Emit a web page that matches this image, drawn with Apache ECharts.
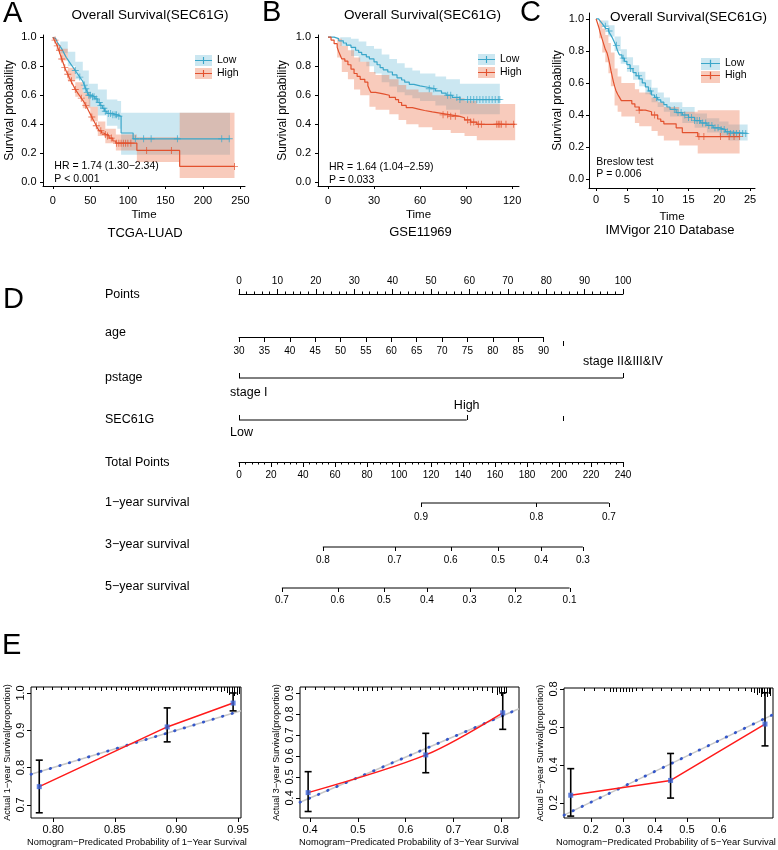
<!DOCTYPE html>
<html><head><meta charset="utf-8">
<script src="https://cdn.jsdelivr.net/npm/echarts@6/dist/echarts.min.js"></script>
<style>html,body{margin:0;padding:0;background:#fff}#c{width:778px;height:850px}</style>
</head><body><div id="c"></div>
<script>
const FF = '"Liberation Sans", Arial, Helvetica, sans-serif';

// ---------------- Panel A (TCGA-LUAD) ----------------
const A_low = [[0,1],[2,0.99],[4,0.98],[6,0.965],[8,0.95],[10,0.935],[12,0.92],[14,0.9],[16,0.88],[18,0.86],[20,0.845],[22,0.83],[24,0.815],[26,0.8],[28,0.785],[30,0.77],[32,0.755],[34,0.74],[36,0.725],[38,0.71],[40,0.695],[42,0.67],[44,0.645],[46,0.62],[48,0.6],[52,0.59],[56,0.575],[60,0.55],[63,0.53],[66,0.51],[69,0.49],[72,0.475],[80,0.465],[86,0.455],[91,0.34],[107,0.3],[236,0.3]];
const A_high = [[0,1],[2,0.98],[4,0.96],[6,0.94],[8,0.91],[10,0.88],[12,0.85],[14,0.82],[16,0.79],[18,0.765],[20,0.745],[22,0.72],[24,0.7],[26,0.68],[28,0.66],[30,0.64],[32,0.625],[34,0.61],[36,0.595],[38,0.58],[40,0.565],[42,0.55],[44,0.53],[46,0.51],[48,0.49],[50,0.47],[52,0.45],[54,0.43],[56,0.41],[58,0.39],[60,0.37],[62,0.355],[65,0.34],[68,0.33],[71,0.32],[75,0.305],[80,0.285],[84,0.27],[112,0.22],[169,0.11],[242,0.11]];
const A_lowCens = [30,36,42,44,46,48,50,53,55,58,62,64,68,70,74,77,80,83,85,88,110,121,131,166,225,235];
const A_highCens = [3,6,9,12,16,20,25,30,38,44,52,58,64,70,73,78,85,88,91,94,97,100,104,125,158,242];
const A_lowBand = [[0,1,1],[10,0.89,0.97],[20,0.8,0.9],[30,0.71,0.83],[40,0.62,0.77],[48,0.52,0.68],[60,0.46,0.64],[72,0.39,0.57],[86,0.37,0.56],[91,0.19,0.48],[236,0.19,0.48]];
const A_highBand = [[0,1,1],[10,0.84,0.92],[20,0.7,0.79],[30,0.59,0.69],[40,0.51,0.62],[50,0.42,0.52],[60,0.32,0.42],[70,0.27,0.37],[84,0.22,0.33],[112,0.14,0.31],[169,0.03,0.48],[242,0.03,0.48]];
const A_xTicks = [0,50,100,150,200,250];

// ---------------- Panel B (GSE11969) ----------------
const B_low = [[0,1],[4,0.99],[7,0.975],[10,0.96],[12,0.945],[15,0.93],[18,0.91],[20,0.895],[22,0.88],[25,0.865],[27,0.85],[30,0.83],[32,0.81],[34,0.79],[36,0.775],[39,0.76],[42,0.74],[45,0.72],[48,0.705],[50,0.69],[53,0.675],[56,0.665],[60,0.655],[65,0.645],[70,0.63],[74,0.615],[77,0.6],[81,0.585],[86,0.57],[112,0.57]];
const B_high = [[0,1],[2,0.98],[4,0.955],[6,0.93],[7,0.9],[8,0.875],[9,0.85],[11,0.835],[13,0.81],[15,0.78],[17,0.75],[19,0.73],[21,0.71],[24,0.69],[26,0.665],[27,0.64],[28,0.62],[31,0.61],[36,0.6],[40,0.585],[44,0.57],[46,0.55],[48,0.53],[51,0.515],[55,0.505],[59,0.495],[63,0.485],[68,0.475],[74,0.465],[80,0.455],[86,0.445],[89,0.43],[93,0.415],[97,0.4],[122,0.4]];
const B_lowCens = [66,69,78,80,84,86,91,93,95,97,99,101,103,105,107,109,111,112];
const B_highCens = [75,78,80,83,91,93,95,98,100,110,111,112,113,116,121];
const B_lowBand = [[0,1,1],[8,0.94,1.0],[15,0.87,0.99],[20,0.83,0.97],[25,0.8,0.94],[30,0.75,0.92],[35,0.69,0.88],[40,0.66,0.85],[45,0.62,0.82],[50,0.6,0.79],[55,0.58,0.77],[60,0.56,0.75],[70,0.53,0.73],[77,0.5,0.71],[86,0.47,0.68],[112,0.47,0.68]];
const B_highBand = [[0,1,1],[6,0.86,0.99],[9,0.76,0.94],[13,0.71,0.91],[17,0.64,0.86],[21,0.6,0.83],[27,0.52,0.76],[31,0.5,0.74],[40,0.47,0.71],[46,0.43,0.67],[51,0.4,0.64],[59,0.38,0.62],[68,0.36,0.6],[80,0.34,0.58],[89,0.32,0.56],[97,0.29,0.54],[122,0.29,0.54]];
const B_xTicks = [0,30,60,90,120];

// ---------------- Panel C (IMVigor 210) ----------------
const C_low = [[0,1],[0.4,0.995],[0.7,0.985],[1,0.97],[1.3,0.955],[1.6,0.94],[2,0.925],[2.3,0.905],[2.6,0.885],[2.9,0.86],[3.2,0.835],[3.5,0.8],[3.8,0.775],[4.2,0.755],[4.6,0.735],[5,0.715],[5.5,0.69],[6,0.665],[6.5,0.645],[7,0.625],[7.5,0.6],[8,0.575],[8.5,0.55],[9,0.525],[9.5,0.51],[10,0.495],[10.5,0.48],[11,0.465],[11.5,0.45],[12,0.435],[13,0.415],[14,0.4],[15,0.385],[16,0.365],[17,0.35],[18,0.335],[19,0.32],[20,0.31],[21,0.295],[21.5,0.285],[24.6,0.285]];
const C_high = [[0,1],[0.3,0.965],[0.5,0.94],[0.7,0.91],[0.9,0.885],[1.1,0.86],[1.3,0.835],[1.5,0.81],[1.8,0.785],[2,0.755],[2.2,0.72],[2.4,0.68],[2.6,0.645],[2.8,0.61],[3,0.58],[3.2,0.555],[3.5,0.53],[3.8,0.51],[4.1,0.49],[5.8,0.47],[6.3,0.45],[7,0.43],[8,0.42],[9,0.4],[10,0.375],[10.5,0.36],[11,0.345],[13,0.32],[14,0.29],[16.5,0.265],[23.3,0.265]];
const C_lowCens = [1.5,2.1,3.3,4.4,5.6,6.9,8.8,9.8,12.7,13.3,13.8,14.4,15,15.5,16,16.4,16.8,17.3,17.8,18.3,18.8,19.3,19.8,20.3,20.8,21.3,21.8,22.3,22.8,23.3,23.8,24.3];
const C_highCens = [7,9.5,16.7,17.5,20.2,21.6,22.4,23.3];
const C_lowBand = [[0,1,1],[1,0.95,0.99],[2,0.89,0.96],[3,0.8,0.89],[4,0.72,0.81],[5,0.67,0.76],[6,0.62,0.71],[7,0.58,0.67],[8,0.53,0.62],[9,0.48,0.57],[10,0.45,0.54],[11,0.42,0.51],[12,0.39,0.48],[14,0.35,0.45],[16,0.32,0.41],[18,0.29,0.38],[20,0.27,0.36],[21.5,0.24,0.34],[24.6,0.24,0.34]];
const C_highBand = [[0,1,1],[0.5,0.88,0.99],[1,0.79,0.94],[1.5,0.73,0.9],[2,0.66,0.85],[2.4,0.58,0.79],[3,0.46,0.69],[3.5,0.42,0.64],[4.1,0.39,0.6],[6.3,0.35,0.56],[7,0.33,0.54],[9,0.3,0.51],[10,0.27,0.48],[11,0.24,0.45],[13.5,0.21,0.42],[16.5,0.16,0.43],[23.3,0.16,0.43]];
const C_xTicks = [0,5,10,15,20,25];
const KM_yTicks = [0,0.2,0.4,0.6,0.8,1.0];

// ---------------- Panel D (nomogram) ----------------
const ageMaxPoints = 79.3;          // points given to age 90
const pstageLevels = ['stage I','stage II&III&IV'];
const pstagePoints = [0,100];
const secLevels = ['Low','High'];
const secPoints = [0,59.3];
const strayTickPoints = 84.4;
const surv1Labels = ['0.9','0.8','0.7'];
const surv1Total = [113.75,185.9,231.2];
const surv3Labels = ['0.8','0.7','0.6','0.5','0.4','0.3'];
const surv3Total = [52.4,97.2,132.3,162,188.8,214.9];
const surv5Labels = ['0.7','0.6','0.5','0.4','0.3','0.2','0.1'];
const surv5Total = [26.8,61.6,90.6,117.4,144.1,172.5,206.6];

// ---------------- Panel E (calibration) ----------------
const E1_pred = [0.7887,0.8925,0.946], E1_obs = [0.749,0.909,0.973], E1_lo = [0.679,0.869,0.952], E1_hi = [0.82,0.96,1.0];
const E2_pred = [0.396,0.642,0.803], E2_obs = [0.425,0.605,0.806], E2_lo = [0.335,0.52,0.727], E2_hi = [0.525,0.708,0.901];
const E3_pred = [0.137,0.449,0.744], E3_obs = [0.24,0.318,0.615], E3_lo = [0.13,0.225,0.50], E3_hi = [0.38,0.46,0.78];
const E1_ideal = [[0.782,0.782],[0.9524,0.9524]];
const E2_ideal = [[0.379,0.379],[0.837,0.825]];
const E3_ideal = [[0.116,0.135],[0.769,0.665]];
const E1_rug = [[0.786,3],[0.792,3],[0.799,3],[0.806,3],[0.812,3],[0.818,3],[0.823,3],[0.829,3],[0.834,3],[0.839,4],[0.843,3],[0.847,3],[0.851,4],[0.855,3],[0.858,3],[0.861,4],[0.864,3],[0.867,3],[0.87,4],[0.873,3],[0.876,3],[0.879,4],[0.882,3],[0.885,4],[0.888,3],[0.891,4],[0.894,3],[0.897,4],[0.9,3],[0.903,4],[0.906,3],[0.909,4],[0.912,3],[0.915,4],[0.918,3],[0.921,4],[0.924,3],[0.927,4],[0.93,3],[0.933,4],[0.936,5],[0.939,4],[0.941,6],[0.943,8],[0.945,6],[0.947,9],[0.949,8],[0.951,7]];
const E2_rug = [[0.39,3],[0.41,3],[0.43,3],[0.45,3],[0.47,3],[0.49,3],[0.5,4],[0.51,4],[0.52,4],[0.53,4],[0.54,4],[0.55,3],[0.57,3],[0.59,3],[0.61,3],[0.63,3],[0.65,3],[0.67,3],[0.68,3],[0.7,3],[0.71,3],[0.72,3],[0.73,3],[0.74,4],[0.75,3],[0.76,4],[0.77,4],[0.78,6],[0.79,8],[0.795,5],[0.8,9],[0.805,7],[0.81,6]];
const E3_rug = [[0.18,3],[0.21,3],[0.24,3],[0.26,4],[0.27,4],[0.28,4],[0.29,4],[0.3,4],[0.31,4],[0.32,4],[0.33,4],[0.34,3],[0.36,3],[0.39,3],[0.42,3],[0.45,3],[0.48,3],[0.51,3],[0.54,3],[0.57,3],[0.6,3],[0.63,3],[0.66,3],[0.68,3],[0.7,4],[0.71,5],[0.72,7],[0.725,5],[0.73,9],[0.735,6],[0.74,8],[0.75,9],[0.755,6],[0.76,8]];

// ---------------- styling ----------------
const LOW_COL = '#3AA6C9', HIGH_COL = '#E2512E';
const LOW_BAND = 'rgba(110,188,215,0.36)', HIGH_BAND = 'rgba(236,118,80,0.38)';
const PLUS = 'path://M0,4.35H10V5.65H0Z M4.35,0H5.65V10H4.35Z';
const KEY = 'path://M0,4.4H20V5.6H0Z M9.35,1H10.65V9H9.35Z';

function stepAt(curve, t) { let s = curve[0][1]; for (const p of curve) { if (p[0] <= t) s = p[1]; else break; } return s; }

function bandSeries(name, band, color, gi) {
  return { type: 'custom', name, xAxisIndex: gi, yAxisIndex: gi, silent: true, z: 1,
    itemStyle: { color }, data: [[band[0][0], band[0][1]]],
    renderItem: (params, api) => {
      const pts = []; const n = band.length;
      for (let i = 0; i < n; i++) { pts.push(api.coord([band[i][0], band[i][2]])); if (i < n - 1) pts.push(api.coord([band[i+1][0], band[i][2]])); }
      for (let i = n - 1; i >= 0; i--) { if (i < n - 1) pts.push(api.coord([band[i+1][0], band[i][1]])); pts.push(api.coord([band[i][0], band[i][1]])); }
      return { type: 'polygon', shape: { points: pts }, style: { fill: color } };
    } };
}
function kmSeries(gi, low, high, lowC, highC, lowB, highB) {
  const line = (name, d, c) => ({ type: 'line', name, xAxisIndex: gi, yAxisIndex: gi, data: d, step: 'end', symbol: 'none', silent: true, z: 2,
    lineStyle: { color: c, width: 1.2 }, itemStyle: { color: c } });
  const cens = (name, curve, ts, c) => ({ type: 'scatter', name, xAxisIndex: gi, yAxisIndex: gi, silent: true, z: 3,
    data: ts.map(t => [t, stepAt(curve, t)]), symbol: PLUS, symbolSize: 7, itemStyle: { color: c } });
  return [bandSeries('LowCI', lowB, LOW_BAND, gi), bandSeries('HighCI', highB, HIGH_BAND, gi),
    line('Low', low, LOW_COL), line('High', high, HIGH_COL),
    cens('Low_c', low, lowC, LOW_COL), cens('High_c', high, highC, HIGH_COL)];
}
function kmX(gi, min, max, ticks, margin) {
  return { gridIndex: gi, type: 'value', min, max, position: 'bottom',
    axisLine: { show: true, onZero: false, lineStyle: { color: '#000', width: 1 } },
    axisTick: { show: true, length: 3, customValues: ticks, lineStyle: { color: '#000' } },
    axisLabel: { show: true, customValues: ticks, fontSize: 11, color: '#000', margin, fontFamily: FF },
    splitLine: { show: false }, name: 'Time', nameLocation: 'middle', nameGap: 23, nameMoveOverlap: false,
    nameTextStyle: { fontSize: 11.5, color: '#000', fontFamily: FF } };
}
function kmY(gi, min, max, margin, gap) {
  return { gridIndex: gi, type: 'value', min, max, position: 'left',
    axisLine: { show: true, onZero: false, lineStyle: { color: '#000', width: 1 } },
    axisTick: { show: true, length: 3, customValues: KM_yTicks, lineStyle: { color: '#000' } },
    axisLabel: { show: true, customValues: KM_yTicks, formatter: v => v.toFixed(1), fontSize: 11, color: '#000', margin, fontFamily: FF },
    splitLine: { show: false }, name: 'Survival probability', nameLocation: 'middle', nameGap: gap, nameMoveOverlap: false,
    nameTextStyle: { fontSize: 12, color: '#000', fontFamily: FF } };
}
function eX(gi, min, max, ticks, dec) {
  return { gridIndex: gi, type: 'value', min, max, position: 'bottom', axisLine: { show: false, onZero: false },
    axisTick: { show: true, length: 4, customValues: ticks, lineStyle: { color: '#000' } },
    axisLabel: { customValues: ticks, formatter: v => v.toFixed(dec), fontSize: 11, color: '#000', margin: 6, fontFamily: FF },
    splitLine: { show: false } };
}
function eY(gi, min, max, ticks, name) {
  return { gridIndex: gi, type: 'value', min, max, position: 'left', axisLine: { show: false, onZero: false },
    axisTick: { show: true, length: 4, customValues: ticks, lineStyle: { color: '#000' } },
    axisLabel: { customValues: ticks, formatter: v => v.toFixed(1), rotate: 90, fontSize: 11, color: '#000', margin: 5, fontFamily: FF },
    splitLine: { show: false }, name, nameLocation: 'middle', nameGap: 19, nameMoveOverlap: false,
    nameTextStyle: { fontSize: 9, color: '#000', fontFamily: FF } };
}
function calSeries(xi, yi, yMax, pred, obs, lo, hi, ideal, rug, smooth) {
  return [
    { type: 'line', xAxisIndex: xi, yAxisIndex: yi, data: ideal, symbol: 'none', silent: true, z: 1, lineStyle: { color: '#c8c8c8', width: 1.5 } },
    { type: 'line', xAxisIndex: xi, yAxisIndex: yi, data: ideal, symbol: 'none', silent: true, z: 2, lineStyle: { color: '#3557c9', width: 2.8, type: [0.5, 9.5], cap: 'round' } },
    { type: 'line', xAxisIndex: xi, yAxisIndex: yi, data: pred.map((p, i) => [p, obs[i]]), symbol: 'none', smooth: smooth || false, silent: true, z: 3, lineStyle: { color: '#ff1a1a', width: 1.5 } },
    { type: 'custom', xAxisIndex: xi, yAxisIndex: yi, silent: true, z: 4, data: pred.map((p, i) => [p, lo[i], hi[i]]), encode: { x: 0, y: [1, 2] },
      renderItem: (params, api) => {
        const a = api.coord([api.value(0), api.value(1)]), b = api.coord([api.value(0), api.value(2)]);
        const st = { stroke: '#000', lineWidth: 1.6 };
        return { type: 'group', children: [
          { type: 'line', shape: { x1: a[0], y1: a[1], x2: b[0], y2: b[1] }, style: st },
          { type: 'line', shape: { x1: a[0] - 3.5, y1: a[1], x2: a[0] + 3.5, y2: a[1] }, style: st },
          { type: 'line', shape: { x1: b[0] - 3.5, y1: b[1], x2: b[0] + 3.5, y2: b[1] }, style: st } ] };
      } },
    { type: 'scatter', xAxisIndex: xi, yAxisIndex: yi, data: pred.map((p, i) => [p, obs[i]]), symbol: 'rect', symbolSize: 5, silent: true, z: 5, itemStyle: { color: '#3d64d8' } },
    { type: 'custom', xAxisIndex: xi, yAxisIndex: yi, silent: true, z: 4, data: rug.map(r => [r[0], yMax, r[1]]),
      renderItem: (params, api) => {
        const p = api.coord([api.value(0), api.value(1)]); const x = Math.round(p[0]) + 0.5;
        return { type: 'line', shape: { x1: x, y1: p[1], x2: x, y2: p[1] + api.value(2) }, style: { stroke: '#000', lineWidth: 1 } };
      } }
  ];
}

// nomogram rows (drawn on grid 6: x = total points (axis 6) or points (axis 7); y = layout row)
const ROW = { points: 294, age: 337, pstage: 378, sec: 420, total: 462, s1: 503, s3: 547, s5: 588 };
function rowLine(xi, x0, x1, y) {
  return { type: 'line', xAxisIndex: xi, yAxisIndex: 6, data: [[x0, y], [x1, y]], symbol: 'none', silent: true, lineStyle: { color: '#000', width: 1 } };
}
function tickRow(xi, xs, labels, y, dir, len, spec) {
  return { type: 'custom', xAxisIndex: xi, yAxisIndex: 6, silent: true, data: xs.map(x => [x, y]),
    renderItem: (params, api) => {
      const p = api.coord([api.value(0), api.value(1)]); const i = params.dataIndex; const s = spec(i);
      const x = Math.round(p[0]) + 0.5;
      const ch = [{ type: 'line', shape: { x1: x, y1: p[1], x2: x, y2: p[1] + dir * len }, style: { stroke: '#000', lineWidth: 1 } }];
      if (labels) ch.push({ type: 'text', x: p[0] + (s.dx || 0), y: p[1] + s.dy,
        style: { text: labels[i], fontSize: s.fs, fontFamily: FF, fill: '#000', align: s.align || 'center', verticalAlign: 'middle' } });
      return { type: 'group', children: ch };
    } };
}

const series = [].concat(
  kmSeries(0, A_low, A_high, A_lowCens, A_highCens, A_lowBand, A_highBand),
  kmSeries(1, B_low, B_high, B_lowCens, B_highCens, B_lowBand, B_highBand),
  kmSeries(2, C_low, C_high, C_lowCens, C_highCens, C_lowBand, C_highBand),
  [
    rowLine(7, pstagePoints[0], pstagePoints[1], ROW.pstage),
    tickRow(7, pstagePoints, pstageLevels, ROW.pstage, -1, 5, i => i === 0 ? { dy: 15, dx: -9, align: 'left', fs: 12.5 } : { dy: -16, fs: 12.5 }),
    rowLine(7, secPoints[0], secPoints[1], ROW.sec),
    tickRow(7, secPoints, secLevels, ROW.sec, -1, 5, i => i === 0 ? { dy: 13, dx: -9, align: 'left', fs: 12.5 } : { dy: -14, fs: 12.5 }),
    tickRow(7, [strayTickPoints], null, ROW.age + 4, 1, 5, () => ({})),
    tickRow(7, [strayTickPoints], null, ROW.sec + 1, -1, 5, () => ({})),
    rowLine(6, surv1Total[0], surv1Total[surv1Total.length - 1], ROW.s1),
    tickRow(6, surv1Total, surv1Labels, ROW.s1, 1, 4, () => ({ dy: 14, fs: 10 })),
    rowLine(6, surv3Total[0], surv3Total[surv3Total.length - 1], ROW.s3),
    tickRow(6, surv3Total, surv3Labels, ROW.s3, 1, 4, () => ({ dy: 13, fs: 10 })),
    rowLine(6, surv5Total[0], surv5Total[surv5Total.length - 1], ROW.s5),
    tickRow(6, surv5Total, surv5Labels, ROW.s5, 1, 4, () => ({ dy: 12.5, fs: 10 }))
  ],
  calSeries(8, 7, 1.016, E1_pred, E1_obs, E1_lo, E1_hi, E1_ideal, E1_rug),
  calSeries(9, 8, 0.929, E2_pred, E2_obs, E2_lo, E2_hi, E2_ideal, E2_rug, 0.3),
  calSeries(10, 9, 0.805, E3_pred, E3_obs, E3_lo, E3_hi, E3_ideal, E3_rug)
);

const hiddenY = gi => ({ gridIndex: gi, type: 'value', show: false });
const nomoAxis = (gi, min, max, interval, pos, margin, minor) => ({
  gridIndex: gi, type: 'value', min, max, interval, position: pos,
  axisLine: { show: true, onZero: false, lineStyle: { color: '#000', width: 1 } },
  axisTick: { show: true, length: 5, lineStyle: { color: '#000' } },
  minorTick: { show: !!minor, splitNumber: minor || 5, length: 2.5, lineStyle: { color: '#000' } },
  axisLabel: { fontSize: 10, color: '#000', margin, fontFamily: FF },
  splitLine: { show: false }, minorSplitLine: { show: false } });

const G = (o) => Object.assign({ containLabel: false, outerBoundsMode: 'none' }, o);
const EG = (o) => G(Object.assign({ show: true, borderColor: '#000', borderWidth: 1, backgroundColor: 'transparent' }, o));

const texts = [
  ['A', 3, 13.5, 29, 'left'], ['B', 262, 13, 29, 'left'], ['C', 520, 13, 29, 'left'],
  ['D', 3, 300, 29, 'left'], ['E', 2, 646, 29, 'left'],
  ['Overall Survival(SEC61G)', 150, 15, 13.5, 'center'],
  ['Overall Survival(SEC61G)', 422.5, 15, 13.5, 'center'],
  ['Overall Survival(SEC61G)', 688.5, 17, 13.5, 'center'],
  ['TCGA-LUAD', 145, 233, 13, 'center'], ['GSE11969', 420.5, 232, 13, 'center'], ['IMVigor 210 Database', 670, 230, 13, 'center'],
  ['HR = 1.74 (1.30\u22122.34)', 54.3, 165.7, 10.5, 'left'], ['P < 0.001', 54.3, 179, 10.5, 'left'],
  ['HR = 1.64 (1.04\u22122.59)', 329, 166.7, 10.5, 'left'], ['P = 0.033', 329, 180, 10.5, 'left'],
  ['Breslow test', 596.3, 162.3, 10.5, 'left'], ['P = 0.006', 596.3, 174, 10.5, 'left'],
  ['Points', 105, 295, 12.5, 'left'], ['age', 105, 333, 12.5, 'left'], ['pstage', 105, 378, 12.5, 'left'],
  ['SEC61G', 105, 420, 12.5, 'left'], ['Total Points', 105, 463, 12.5, 'left'],
  ['1\u2212year survival', 105, 503, 12.5, 'left'], ['3\u2212year survival', 105, 545, 12.5, 'left'], ['5\u2212year survival', 105, 587, 12.5, 'left'],
  ['Nomogram\u2212Predicated Probability of 1\u2212Year Survival', 137, 842, 9.3, 'center'],
  ['Nomogram\u2212Predicated Probability of 3\u2212Year Survival', 409, 842, 9.3, 'center'],
  ['Nomogram\u2212Predicated Probability of 5\u2212Year Survival', 666, 842, 9.3, 'center']
];

const legendPair = (left, top, w, h, gap) => [
  { left, top, orient: 'vertical', itemWidth: w, itemHeight: h, itemGap: gap, selectedMode: false, z: 3,
    data: [{ name: 'LowCI', icon: 'rect' }, { name: 'HighCI', icon: 'rect' }], formatter: () => ' ',
    textStyle: { fontSize: 10.5, fontFamily: FF, color: '#000' } },
  { left, top, orient: 'vertical', itemWidth: w, itemHeight: h, itemGap: gap, selectedMode: false, z: 5,
    data: [{ name: 'Low', icon: KEY }, { name: 'High', icon: KEY }],
    textStyle: { fontSize: 10.5, fontFamily: FF, color: '#000' } }
];

const option = {
  animation: false,
  backgroundColor: '#fff',
  textStyle: { fontFamily: FF },
  legend: [].concat(legendPair(190, 50, 17, 11, 2), legendPair(473, 49, 17, 11, 2), legendPair(696, 53, 19, 12, 1)),
  grid: [
    G({ left: 43, top: 35, width: 202, height: 151 }),
    G({ left: 318, top: 35, width: 201, height: 151 }),
    G({ left: 589, top: 13, width: 166, height: 175 }),
    G({ left: 239, top: ROW.points, width: 384, height: 1 }),
    G({ left: 239, top: ROW.age - 1, width: 384 * ageMaxPoints / 100, height: 1 }),
    G({ left: 239, top: ROW.total - 1, width: 384, height: 1 }),
    G({ left: 239, top: 270, width: 384, height: 345 }),
    EG({ left: 31, top: 687, width: 210, height: 131 }),
    EG({ left: 300, top: 687, width: 219, height: 131 }),
    EG({ left: 564, top: 688, width: 209, height: 130 })
  ],
  xAxis: [
    kmX(0, -13, 256, A_xTicks, 9),
    kmX(1, -6.5, 124.5, B_xTicks, 9),
    kmX(2, -1.15, 25.8, C_xTicks, 6),
    nomoAxis(3, 0, 100, 10, 'top', 7.5, 5),
    nomoAxis(4, 30, 90, 5, 'bottom', 9, 0),
    nomoAxis(5, 0, 240, 20, 'bottom', 8, 5),
    { gridIndex: 6, type: 'value', min: 0, max: 240, show: false, position: 'bottom' },
    { gridIndex: 6, type: 'value', min: 0, max: 100, show: false, position: 'top' },
    eX(7, 0.782, 0.9524, [0.80, 0.85, 0.90, 0.95], 2),
    eX(8, 0.379, 0.837, [0.4, 0.5, 0.6, 0.7, 0.8], 1),
    eX(9, 0.116, 0.769, [0.2, 0.3, 0.4, 0.5, 0.6], 1)
  ],
  yAxis: [
    kmY(0, -0.025, 1.015, 6.5, 27),
    kmY(1, -0.025, 1.015, 7, 29),
    kmY(2, -0.056, 1.037, 5, 25.5),
    hiddenY(3), hiddenY(4), hiddenY(5),
    { gridIndex: 6, type: 'value', min: 270, max: 615, inverse: true, show: false },
    eY(7, 0.665, 1.016, [0.7, 0.8, 0.9, 1.0], 'Actual 1\u2212year Survival(proportion)'),
    eY(8, 0.304, 0.929, [0.4, 0.5, 0.6, 0.7, 0.8, 0.9], 'Actual 3\u2212year Survival(proportion)'),
    eY(9, 0.12, 0.805, [0.2, 0.4, 0.6, 0.8], 'Actual 5\u2212year Survival(proportion)')
  ],
  graphic: texts.map(t => ({ type: 'text', x: t[1], y: t[2], silent: true,
    style: { text: t[0], fontSize: t[3], fontFamily: FF, fill: '#000', align: t[4], verticalAlign: 'middle' } })),
  series
};

const chart = echarts.init(document.getElementById('c'), null, { renderer: 'canvas', width: 778, height: 850 });
chart.setOption(option);
</script></body></html>
